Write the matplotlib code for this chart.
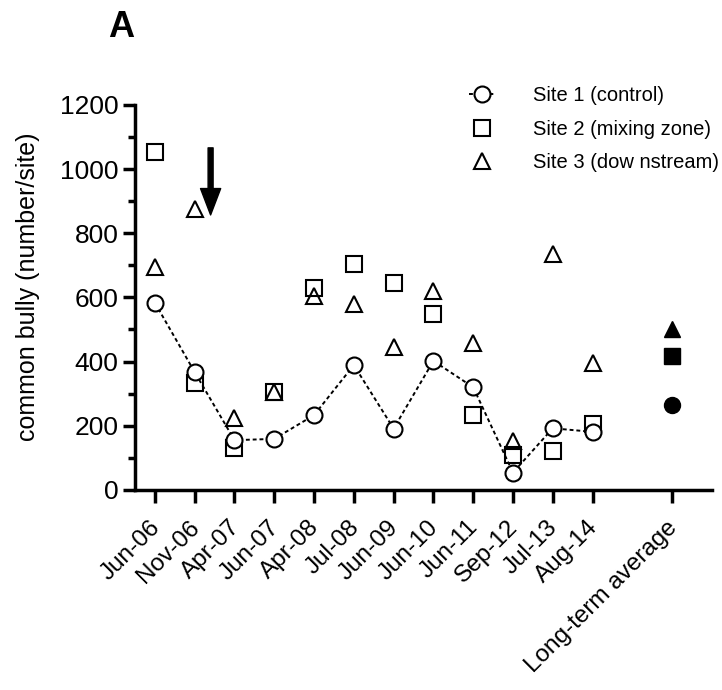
import matplotlib
matplotlib.use("Agg")
import matplotlib.pyplot as plt
import matplotlib.transforms as mtransforms
from matplotlib.ticker import MultipleLocator

plt.rcParams['font.family'] = ['Liberation Sans', 'DejaVu Sans']

dates = ["Jun-06", "Nov-06", "Apr-07", "Jun-07", "Apr-08", "Jul-08",
         "Jun-09", "Jun-10", "Jun-11", "Sep-12", "Jul-13", "Aug-14"]
site1 = [583, 367, 155, 159, 233, 389, 191, 402, 320, 54, 192, 181]
site2 = [1053, 334, 130, 306, 629, 704, 646, 549, 234, 109, 122, 205]
site3 = [696, 875, 223, 304, 605, 580, 445, 620, 459, 151, 735, 397]
avg_label = "Long-term average"
avg_site1 = 265
avg_site2 = 416
avg_site3 = 501

x = list(range(len(dates)))
x_avg = len(dates) + 1

fig = plt.figure(figsize=(7.22, 6.9), dpi=100)
ax = fig.add_axes([0.187, 0.29, 0.799, 0.558])

ms = 11.5
mew = 1.5
ax.plot(x, site1, linestyle=(0, (2, 1.5)), color='black', lw=1.4, marker='o',
        ms=ms, mfc='white', mec='black', mew=mew, label="Site 1 (control)", zorder=3)
ax.plot(x, site2, linestyle='none', marker='s', ms=ms, mfc='none', mec='black',
        mew=mew, label="Site 2 (mixing zone)", zorder=2)
ax.plot(x, site3, linestyle='none', marker='^', ms=ms, mfc='none', mec='black',
        mew=mew, label="Site 3 (dow nstream)", zorder=2)

ax.plot([x_avg], [avg_site1], marker='o', ms=ms, color='black', linestyle='none')
ax.plot([x_avg], [avg_site2], marker='s', ms=ms, color='black', linestyle='none')
ax.plot([x_avg], [avg_site3], marker='^', ms=ms, color='black', linestyle='none')

# arrow marking the event
ax.annotate("", xy=(1.4, 857), xytext=(1.4, 1066),
            arrowprops=dict(facecolor='black', edgecolor='black', width=3.6,
                            headwidth=14.5, headlength=19, shrink=0))

ax.set_xlim(-0.5, 14)
ax.set_ylim(0, 1200)
ax.set_xticks(x + [x_avg])
ax.set_xticklabels(dates + [avg_label], rotation=45, ha='right',
                   rotation_mode='anchor', fontsize=17.5)
ax.yaxis.set_major_locator(MultipleLocator(200))
ax.yaxis.set_minor_locator(MultipleLocator(100))
ax.tick_params(axis='y', labelsize=19, width=2.5, length=9, direction='out', pad=3)
ax.tick_params(axis='y', which='minor', width=2.5, length=5)
ax.tick_params(axis='x', width=2.5, length=9, direction='out', pad=10)
shift = mtransforms.ScaledTranslation(-0.06, 0, fig.dpi_scale_trans)
for lab in ax.get_xticklabels():
    lab.set_transform(lab.get_transform() + shift)

ax.set_ylabel("common bully (number/site)", fontsize=18)
ax.yaxis.set_label_coords(-0.165, 0.527)

for s in ['top', 'right']:
    ax.spines[s].set_visible(False)
for s in ['left', 'bottom']:
    ax.spines[s].set_linewidth(2.5)

leg = ax.legend(loc='upper right', bbox_to_anchor=(0.999, 0.878),
                bbox_transform=fig.transFigure, frameon=False, borderpad=0.1,
                borderaxespad=0, fontsize=14.5, handlelength=1.3,
                handletextpad=1.9, labelspacing=0.72)

fig.text(108 / 722, 1 - 37 / 690, "A", fontsize=26, fontweight='bold')

fig.savefig("out.png", dpi=100)
